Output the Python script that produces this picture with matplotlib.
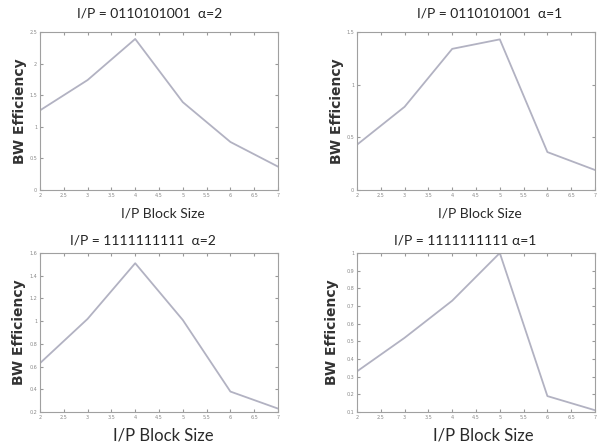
import matplotlib.pyplot as plt
from matplotlib.ticker import FormatStrFormatter

# I/P block sizes
block_size = [2, 3, 4, 5, 6, 7]

# BW efficiency
eff_a = [1.26, 1.74, 2.39, 1.39, 0.76, 0.37]   # 0110101001, alpha=2
eff_b = [0.43, 0.79, 1.34, 1.43, 0.36, 0.19]   # 0110101001, alpha=1
eff_c = [0.63, 1.02, 1.51, 1.01, 0.38, 0.23]   # 1111111111, alpha=2
eff_d = [0.33, 0.52, 0.73, 1.00, 0.19, 0.11]   # 1111111111, alpha=1

titles = ['I/P = 0110101001  α=2', 'I/P = 0110101001  α=1',
          'I/P = 1111111111  α=2', 'I/P = 1111111111 α=1']
ylims = [(0, 2.5), (0, 1.5), (0.2, 1.6), (0.1, 1.0)]
ysteps = [0.5, 0.5, 0.2, 0.1]

W, H = 600, 448
fig = plt.figure(figsize=(6, 4.48), dpi=100)

# axes boxes in pixels: left, right, top, bottom
boxes = [(40, 278, 32, 190), (357, 595, 32, 190),
         (40, 278, 253, 412), (357, 595, 253, 412)]
title_pos = [(150, 14), (490, 14), (143, 240), (465, 240)]
ylab_x = [20, 337, 19, 332]
xlab_pos = [(163, 213, 10), (480, 213, 10), (163, 435, 12), (483, 435, 12)]

line_col = '#b2b2c2'
for i, vals in enumerate([eff_a, eff_b, eff_c, eff_d]):
    l, r, t, b = boxes[i]
    ax = fig.add_axes([l / W, 1 - b / H, (r - l) / W, (b - t) / H])
    ax.plot(block_size, vals, color=line_col, linewidth=1.3)
    ax.set_xlim(2, 7)
    lo, hi = ylims[i]
    ax.set_ylim(lo, hi)
    ax.set_xticks([2 + 0.5 * k for k in range(11)])
    n = int(round((hi - lo) / ysteps[i]))
    ax.set_yticks([round(lo + ysteps[i] * k, 2) for k in range(n + 1)])
    ax.xaxis.set_major_formatter(FormatStrFormatter('%g'))
    ax.yaxis.set_major_formatter(FormatStrFormatter('%g'))
    ax.tick_params(direction='in', top=True, right=True, labelsize=3.5,
                   labelcolor='#888888', color='#999999', length=2, pad=2)
    for s in ax.spines.values():
        s.set_color('#a0a0a0')
        s.set_linewidth(0.8)
    tx, ty = title_pos[i]
    fig.text(tx / W, 1 - ty / H, titles[i], ha='center', va='center',
             fontsize=10, family='Lato', color='#222222')
    fig.text(ylab_x[i] / W, 1 - ((t + b) / 2) / H, 'BW Efficiency',
             rotation=90, ha='center', va='center', fontsize=10,
             fontweight='bold', family='DejaVu Sans', color='#333333')
    xx, xy, fs = xlab_pos[i]
    fig.text(xx / W, 1 - xy / H, 'I/P Block Size', ha='center', va='center',
             fontsize=fs, family='Lato', color='#2a2a2a')

fig.savefig('out.png', dpi=100)
